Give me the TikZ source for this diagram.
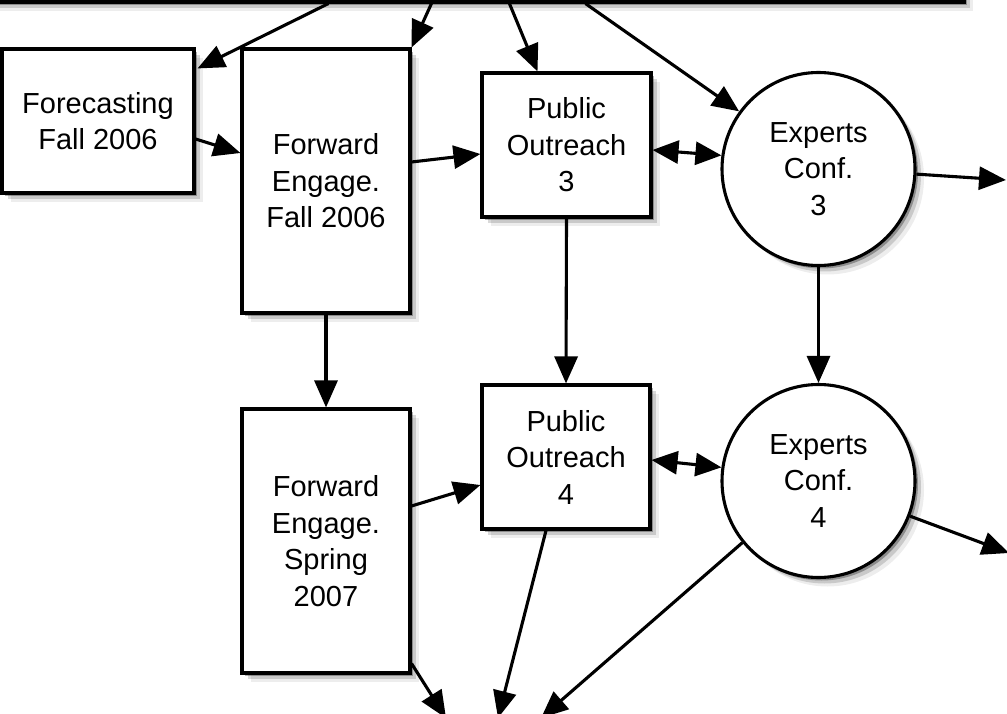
\documentclass[tikz,border=0pt]{standalone}
\usepackage{fontspec}
\setmainfont{Liberation Sans}
\usetikzlibrary{arrows.meta,shadows,calc}
\begin{document}
\begin{tikzpicture}[x=1pt,y=-1pt,
  shd/.style={drop shadow={shadow xshift=3pt,shadow yshift=-3pt,fill=black,opacity=.30},
              drop shadow={shadow xshift=6pt,shadow yshift=-6pt,fill=black,opacity=.15},
              drop shadow={shadow xshift=9pt,shadow yshift=-9pt,fill=black,opacity=.07}},
  box/.style={draw=black,fill=white,line width=3.1pt,rectangle,inner sep=0pt,align=center,
              font=\fontsize{29}{36.5}\selectfont,shd},
  circ/.style={box,circle,minimum size=193pt},
  tip/.style={},
  arr/.style={line width=3.1pt,-{Triangle[length=27pt,width=23pt]}},
  darr/.style={line width=3.1pt,{Triangle[length=26pt,width=23pt]}-{Triangle[length=26pt,width=23pt]}}
]
\useasboundingbox (0,0) rectangle (1007,714);
\fill[white] (0,0) rectangle (1007,714);

\node[box,minimum width=984pt,minimum height=42pt] (top) at (472,-19) {};
\node[box,minimum width=192pt,minimum height=144pt] (fc) at (98,121) {Forecasting\\Fall 2006};
\node[box,minimum width=168pt,minimum height=264pt] (fe1) at (326,181) {Forward\\Engage.\\Fall 2006};
\node[box,minimum width=169pt,minimum height=144pt] (po3) at (566.5,145) {Public\\Outreach\\3};
\node[circ] (ec3) at (818.5,169) {Experts\\Conf.\\3};
\node[box,minimum width=168pt,minimum height=264pt] (fe2) at (326,541) {Forward\\Engage.\\Spring\\2007};
\node[box,minimum width=168pt,minimum height=144pt] (po4) at (566,457) {Public\\Outreach\\4};
\node[circ] (ec4) at (818.5,481) {Experts\\Conf.\\4};

\coordinate (out3) at (1006,180);
\coordinate (out4) at (1009,553);
\coordinate (b1) at (446,718);
\coordinate (b2) at (498,718);
\coordinate (b3) at (541,718);

\draw[arr] ($(top.south west)+(350,0)$) -- ($(fc.north east)+(2,21)$);
\draw[arr] ($(top.south west)+(453,0)$) -- (fe1.north east);
\draw[arr] ($(top.south west)+(531,0)$) -- ($(po3.north)+(-29,0)$);
\draw[arr] ($(top.south west)+(607,0)$) -- (ec3.144);

\draw[arr] ($(fc.east)+(0,18)$) -- ($(fe1.west)+(0,-28)$);
\draw[arr] ($(fe1.east)+(0,-19)$) -- ($(po3.west)+(0,9)$);
\draw[darr] ($(po3.east)+(0,5)$) -- (ec3.172);
\draw[arr] (ec3.357) -- (out3);

\draw[arr] (po3.south) -- (po4.north);
\draw[arr] (ec3.south) -- (ec4.north);
\draw[arr] (fe1.south) -- (fe2.north);

\draw[arr] ($(fe2.east)+(0,-35)$) -- ($(po4.west)+(0,28)$);
\draw[darr] ($(po4.east)+(0,3)$) -- (ec4.172);
\draw[arr] (ec4.339) -- (out4);

\draw[arr] ($(fe2.south east)+(0,-11)$) -- (b1);
\draw[arr] ($(po4.south)+(-20,0)$) -- (b2);
\draw[arr] (ec4.219) -- (b3);
\end{tikzpicture}
\end{document}
